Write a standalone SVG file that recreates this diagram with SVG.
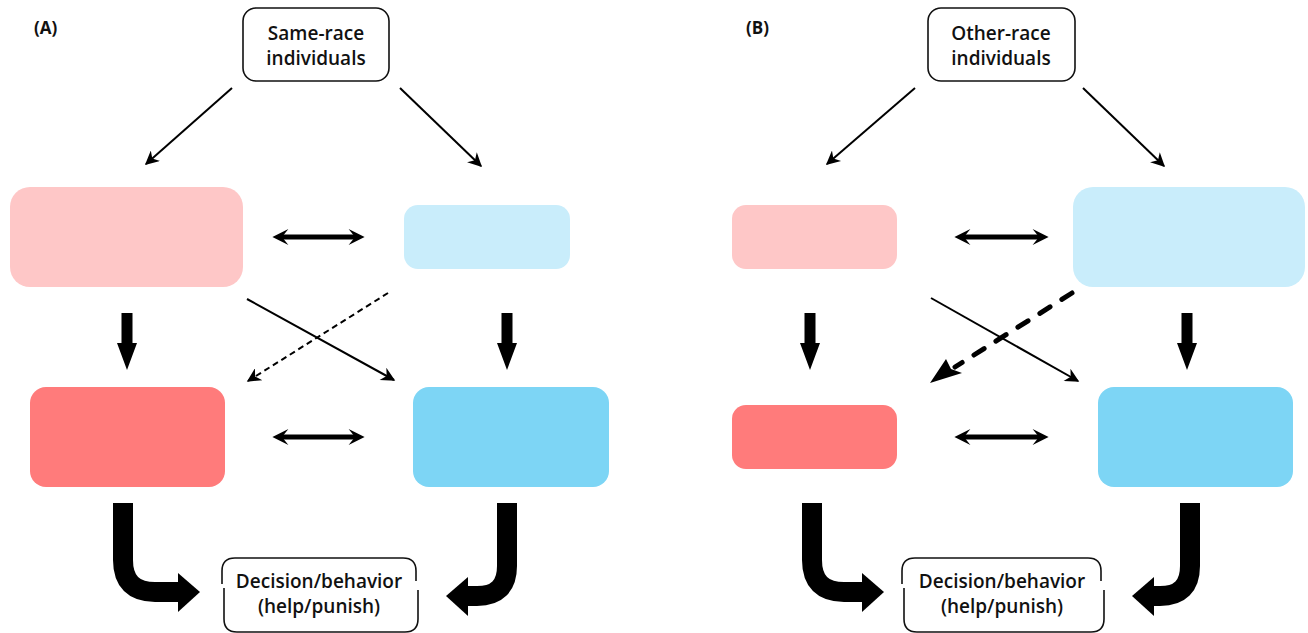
<svg xmlns="http://www.w3.org/2000/svg" width="1308" height="633" viewBox="0 0 1308 633">
<defs>
<style>
.t{font-family:"Open Sans","Liberation Sans",sans-serif;font-size:19px;font-weight:600;fill:#111;text-anchor:middle}
.lab{font-family:"Open Sans","Liberation Sans",sans-serif;font-size:17px;font-weight:bold;fill:#111}
.box{fill:#fff;stroke:#111;stroke-width:1.6}
.ln{stroke:#000;stroke-width:2;fill:none}
.dbl{stroke:#000;stroke-width:5;fill:none}
.fat{stroke:#000;stroke-width:20;fill:none}
.lp{fill:#FEC7C7}
.lb{fill:#C9EDFB}
.dp{fill:#FF7B7B}
.db{fill:#7DD5F5}
</style>
<marker id="ah" viewBox="0 0 10 10" refX="9" refY="5" markerWidth="16" markerHeight="14" markerUnits="userSpaceOnUse" orient="auto-start-reverse"><path d="M0,0 L10,5 L0,10 L3,5 z" fill="#000"/></marker>
<marker id="ahd" viewBox="0 0 10 10" refX="4" refY="5" markerWidth="18" markerHeight="16" markerUnits="userSpaceOnUse" orient="auto-start-reverse"><path d="M0,0 L10,5 L0,10 L4,5 z" fill="#000"/></marker>
<path id="down" d="M-5.5,0 L5.5,0 L5.5,30 L10,30 L0,57 L-10,30 L-5.5,30 z" fill="#000"/>
</defs>
<rect width="1308" height="633" fill="#fff"/>
<text class="lab" x="34" y="34">(A)</text>
<text class="lab" x="746" y="34">(B)</text>

<g id="nodeA-top"><rect class="box" x="243" y="8" width="146" height="73" rx="13"/><text class="t" x="316" y="40">Same-race</text><text class="t" x="316" y="65">individuals</text></g>
<g id="nodeA-lp"><rect class="lp" x="10" y="187" width="233" height="100" rx="20"/></g>
<g id="nodeA-lb"><rect class="lb" x="404" y="205" width="166" height="64" rx="14"/></g>
<g id="nodeA-dp"><rect class="dp" x="30" y="387" width="195" height="100" rx="16"/></g>
<g id="nodeA-db"><rect class="db" x="413" y="387" width="196" height="100" rx="16"/></g>
<g id="nodeA-dec"><path class="box" d="M222,584 L222,571 Q222,558 235,558 L403,558 Q416,558 416,571 L416,581"/><path class="box" d="M224,588 L224,619 Q224,632 237,632 L405,632 Q418,632 418,619 L418,590"/><text class="t" x="319" y="588">Decision/behavior</text><text class="t" x="319" y="613">(help/punish)</text></g>

<g id="nodeB-top"><rect class="box" x="928" y="8" width="147" height="73" rx="13"/><text class="t" x="1001" y="40">Other-race</text><text class="t" x="1001" y="65">individuals</text></g>
<g id="nodeB-lp"><rect class="lp" x="732" y="205" width="165" height="64" rx="14"/></g>
<g id="nodeB-lb"><rect class="lb" x="1073" y="187" width="232" height="100" rx="20"/></g>
<g id="nodeB-dp"><rect class="dp" x="732" y="405" width="165" height="64" rx="14"/></g>
<g id="nodeB-db"><rect class="db" x="1098" y="387" width="195" height="100" rx="16"/></g>
<g id="nodeB-dec"><path class="box" d="M902,584 L902,571 Q902,558 915,558 L1088,558 Q1101,558 1101,571 L1101,581"/><path class="box" d="M904,588 L904,619 Q904,632 917,632 L1091,632 Q1104,632 1104,619 L1104,590"/><text class="t" x="1002" y="588">Decision/behavior</text><text class="t" x="1002" y="613">(help/punish)</text></g>

<g id="connectors">
<line class="ln" x1="232" y1="88" x2="146" y2="164" marker-end="url(#ah)"/>
<line class="ln" x1="400" y1="88" x2="481" y2="166" marker-end="url(#ah)"/>
<line class="dbl" x1="282" y1="237" x2="355" y2="237" marker-start="url(#ahd)" marker-end="url(#ahd)"/>
<line class="dbl" x1="282" y1="437" x2="355" y2="437" marker-start="url(#ahd)" marker-end="url(#ahd)"/>
<use href="#down" x="127" y="313"/>
<use href="#down" x="507" y="313"/>
<line class="ln" x1="247" y1="299" x2="394" y2="380" marker-end="url(#ah)"/>
<line class="ln" x1="388" y1="293" x2="248" y2="381" stroke-dasharray="6,4" marker-end="url(#ah)"/>
<path class="fat" d="M123,503 L123,560 Q123,592 155,592 L180,592"/>
<path d="M178,573 L200,592 L178,612 z" fill="#000"/>
<path class="fat" d="M507,503 L507,566 Q507,596 477,596 L466,596"/>
<path d="M468,577 L446,596 L468,616 z" fill="#000"/>

<line class="ln" x1="915" y1="88" x2="827" y2="164" marker-end="url(#ah)"/>
<line class="ln" x1="1083" y1="88" x2="1164" y2="166" marker-end="url(#ah)"/>
<line class="dbl" x1="964" y1="237" x2="1039" y2="237" marker-start="url(#ahd)" marker-end="url(#ahd)"/>
<line class="dbl" x1="964" y1="437" x2="1039" y2="437" marker-start="url(#ahd)" marker-end="url(#ahd)"/>
<use href="#down" x="810" y="313"/>
<use href="#down" x="1187" y="313"/>
<line class="ln" x1="931" y1="298" x2="1078" y2="381" marker-end="url(#ah)"/>
<line x1="1072" y1="293" x2="955" y2="367" stroke="#000" stroke-width="5" stroke-linecap="round" stroke-dasharray="12,14"/>
<path d="M930,383 L946,359 L951,369 L962,373 z" fill="#000"/>
<path class="fat" d="M812,503 L812,560 Q812,592 844,592 L864,592"/>
<path d="M862,573 L884,592 L862,612 z" fill="#000"/>
<path class="fat" d="M1190,503 L1190,566 Q1190,596 1160,596 L1152,596"/>
<path d="M1154,577 L1132,596 L1154,616 z" fill="#000"/>
</g>
</svg>
